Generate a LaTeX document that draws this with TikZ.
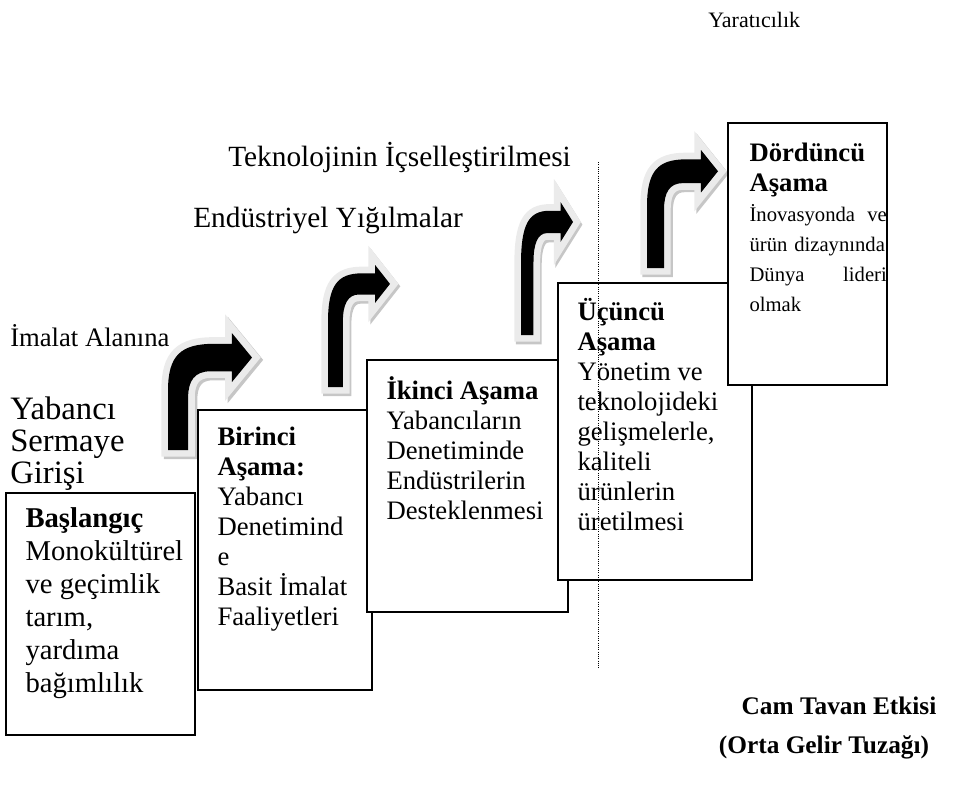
\documentclass[tikz,border=0pt]{standalone}
\usepackage{fontspec}
\setmainfont{Liberation Serif}
\usetikzlibrary{fit}

\begin{document}
\begin{tikzpicture}
    [x=0.75pt, y=-0.75pt,
    stage/.style={draw, line width=1.1pt, fill=white, inner sep=0pt},
    stage text/.style={anchor=north west, inner sep=0pt, align=left,
        font=\fontsize{20pt}{22.5pt}\selectfont},
    note/.style={anchor=base west, inner sep=0pt},
    ceiling/.style={densely dotted, line width=0.7pt},
    arrow rim/.style={draw=gray!16, fill=gray!16, line width=10pt, line join=miter},
    arrow edge/.style={draw=gray!45, fill=gray!45, line width=10pt, line join=miter},
    pics/bent arrow/.style={code={
        \def\bentpath{(0,1) -- (0,{0.22*#1+0.4})
            .. controls (0,{0.22*#1+0.1}) and (0.15,{0.22*#1}) .. (0.55,{0.22*#1})
            -- (0.76,{0.22*#1}) -- (0.76,0) -- (1,{0.5*#1}) -- (0.76,#1)
            -- (0.76,{0.78*#1}) -- (0.5,{0.78*#1})
            .. controls (0.32,{0.78*#1}) and (0.24,{0.78*#1+0.08}) .. (0.24,{0.78*#1+0.22})
            -- (0.24,1) -- cycle}
        \path[arrow edge, shift={(0.03,0.02)}] \bentpath;
        \path[arrow rim] \bentpath;
        \fill[black] \bentpath;
    }}]

    \useasboundingbox (0,0) rectangle (956,789);

    % turning arrows between the stages
    \pic[xscale=84, yscale=117] (turn1) at (168,333) {bent arrow=0.42};
    \pic[xscale=62, yscale=122] (turn2) at (328,265) {bent arrow=0.31};
    \pic[xscale=52, yscale=133] (turn3) at (521,202) {bent arrow=0.30};
    \pic[xscale=71, yscale=118] (turn4) at (647,150) {bent arrow=0.36};

    % stage boxes
    \node[stage, fit={(6,493) (195,735)}] (b0) {};
    \node[stage, fit={(198,410) (372,690)}] (b1) {};
    \node[stage, fit={(367,360) (568,612)}] (b2) {};
    \node[stage, fit={(558,283) (752,580)}] (b3) {};
    \node[stage, fit={(728,123) (887,385)}] (b4) {};

    % stage texts
    \node[stage text, font=\fontsize{21.5pt}{24.75pt}\selectfont] (t0)
        at ([shift={(20,15)}]b0.north west)
        {\textbf{Başlangıç}\\Monokültürel\\ve geçimlik\\tarım,\\yardıma\\bağımlılık};
    \node[stage text] (t1) at ([shift={(20,17)}]b1.north west)
        {\textbf{Birinci}\\\textbf{Aşama:}\\Yabancı\\Denetimind\\e\\Basit İmalat\\Faaliyetleri};
    \node[stage text] (t2) at ([shift={(20,17)}]b2.north west)
        {\textbf{İkinci Aşama}\\Yabancıların\\Denetiminde\\Endüstrilerin\\Desteklenmesi};
    \node[stage text] (t3) at ([shift={(20,16)}]b3.north west)
        {\textbf{Üçüncü}\\\textbf{Aşama}\\Yönetim ve\\teknolojideki\\gelişmelerle,\\kaliteli\\ürünlerin\\üretilmesi};
    \node[stage text, text width=103pt, font=\fontsize{15.5pt}{22.5pt}\selectfont] (t4)
        at ([shift={(22,20)}]b4.north west)
        {{\fontsize{20pt}{22.5pt}\selectfont\bfseries Dördüncü}\\%
         {\fontsize{20pt}{22.5pt}\selectfont\bfseries Aşama}\\%
         İnovasyonda\hfill ve\\\mbox{ürün dizaynında}\\Dünya\hfill lideri\\olmak};

    % labels over the arrows
    \node[note, font=\fontsize{16.5pt}{19pt}\selectfont] (creative) at (708,27) {Yaratıcılık};
    \node[note, font=\fontsize{22pt}{25pt}\selectfont] (internal) at (228,166) {Teknolojinin İçselleştirilmesi};
    \node[note, font=\fontsize{22pt}{25pt}\selectfont] (cluster) at (193,227) {Endüstriyel Yığılmalar};
    \node[note, font=\fontsize{20pt}{24pt}\selectfont] (manuf) at (10,346) {İmalat Alanına};
    \node[anchor=north west, inner sep=0pt, align=left,
        font=\fontsize{24.5pt}{24pt}\selectfont] (capital) at (10,397) {Yabancı\\Sermaye\\Girişi};

    % glass ceiling
    \coordinate (ceil top) at (598,162);
    \coordinate (ceil bottom) at (598,668);
    \draw[ceiling] (ceil top) -- (ceil bottom);
    \node[anchor=base, font=\bfseries\fontsize{19pt}{23pt}\selectfont] (glass) at (839,714) {Cam Tavan Etkisi};
    \node[anchor=base, font=\bfseries\fontsize{19pt}{23pt}\selectfont] (trap) at (824,753) {(Orta Gelir Tuzağı)};

\end{tikzpicture}
\end{document}
